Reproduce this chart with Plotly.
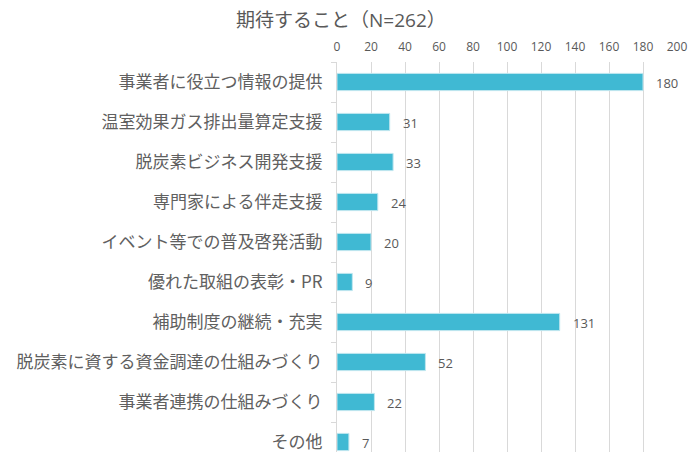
import plotly.graph_objects as go

categories = [
    "事業者に役立つ情報の提供",
    "温室効果ガス排出量算定支援",
    "脱炭素ビジネス開発支援",
    "専門家による伴走支援",
    "イベント等での普及啓発活動",
    "優れた取組の表彰・PR",
    "補助制度の継続・充実",
    "脱炭素に資する資金調達の仕組みづくり",
    "事業者連携の仕組みづくり",
    "その他",
]
values = [180, 31, 33, 24, 20, 9, 131, 52, 22, 7]
tick_vals = list(range(0, 201, 20))
title_text = "期待すること（N=262）"

FONT = "Noto Sans CJK JP"
GRAY = "#595959"
BAR = "#40B9D3"

fig = go.Figure()
fig.add_trace(go.Bar(
    y=categories, x=values, orientation="h",
    marker=dict(color=BAR, line=dict(color="#bfe6ef", width=1)),
    width=0.43,
    hoverinfo="skip",
))
for c, v in zip(categories, values):
    fig.add_annotation(
        x=v, y=c, text=str(v), showarrow=False, xanchor="left", xshift=11, yshift=-1,
        font=dict(family="Open Sans", size=13, color=GRAY),
    )

fig.update_layout(
    width=691, height=452,
    margin=dict(l=337, r=14, t=62, b=0, autoexpand=False),
    paper_bgcolor="white", plot_bgcolor="white",
    showlegend=False,
    font=dict(family=FONT, color=GRAY),
    title=dict(
        text=title_text, xref="container", yref="container",
        x=236 / 691, xanchor="left", y=1 - 20 / 452, yanchor="middle",
        font=dict(family="Open Sans, " + FONT, size=19, color=GRAY),
    ),
)
fig.update_xaxes(
    side="top", range=[0, 200], tickvals=tick_vals,
    showgrid=True, gridcolor="#d9d9d9", gridwidth=1,
    zeroline=False, showline=False, ticks="",
    tickfont=dict(family="Open Sans", size=12, color=GRAY),
    ticklabelstandoff=8, automargin=False,
)
fig.update_yaxes(
    categoryorder="array", categoryarray=categories,
    range=[9.25, -0.5], autorange=False,
    showline=True, linecolor="#d9d9d9", linewidth=1,
    ticks="outside", tickson="boundaries", ticklen=5, tickcolor="#d9d9d9",
    showgrid=False, automargin=False,
    tickfont=dict(family=FONT, size=17, color="#606060"),
    ticklabelstandoff=10,
)
fig.write_html(
    "out.html",
    config={"displayModeBar": False},
    post_script="document.body.style.margin='0';document.body.style.overflow='hidden';",
)
